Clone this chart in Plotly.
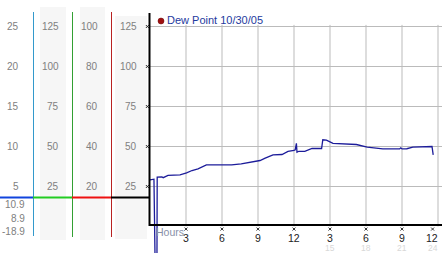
import plotly.graph_objects as go

# ---------------- data ----------------
hours = [0.0, 0.33, 0.42, 0.58, 0.6, 1.0, 1.1, 1.4, 1.5, 2.5, 3.05, 3.5, 4.0, 4.7,
         6.8, 7.6, 8.33, 9.17, 9.6, 10.25, 11.0, 11.5, 12.0, 12.1, 12.2, 12.25,
         12.4, 12.9, 13.5, 14.3, 14.4, 14.7, 15.25, 17.2, 18.1, 19.4, 20.8, 20.9,
         21.0, 21.4, 21.9, 23.5, 23.6]
dew_point = [29.2, 29.6, -20, -20, 30.8, 31.0, 30.5, 31.2, 31.9, 32.3, 33.5, 35, 36, 38.5,
             38.5, 39.2, 40.2, 41.25, 42.7, 44.8, 45, 46.9, 47.5, 47.9, 52, 46.4,
             47, 47, 48.75, 48.75, 54.2, 54, 52, 51.25, 49.6, 48.5, 48.5, 49.2,
             48.5, 48.6, 49.6, 50, 44.8]

grid_values = [25, 50, 75, 100, 125]
col1_labels = ["5", "10", "15", "20", "25"]
col2_labels = ["25", "50", "75", "100", "125"]
col3_labels = ["20", "40", "60", "80", "100"]
col4_labels = ["25", "50", "75", "100", "125"]
low_labels = ["10.9", "8.9", "-18.9"]
hour_ticks = [3, 6, 9, 12, 15, 18, 21, 24]
hour_labels = ["3", "6", "9", "12", "3", "6", "9", "12"]
hour_ticks2 = [15, 18, 21, 24]
hour_labels2 = ["15", "18", "21", "24"]
legend_text = "Dew Point 10/30/05"

W, H = 442, 253
X0PX, PXH = 150, 12.0        # hour 0 pixel, pixels per hour
Y0PX, PXV = 226.5, 1.6       # value 0 pixel, pixels per unit

def px(xp):
    return xp / W

def py(yp):
    return 1 - yp / H

FONT = "Liberation Sans, Arial, sans-serif"
fig = go.Figure()

fig.add_trace(go.Scatter(x=hours, y=dew_point, mode="lines",
                         line=dict(color="#1c1c9a", width=1.3), hoverinfo="skip"))

# tiny x tick markers
tick_x = [h if h < 24 else h - 0.45 for h in hour_ticks]
fig.add_trace(go.Scatter(x=[-0.22] * len(grid_values), y=grid_values, mode="markers",
                         marker=dict(symbol="x-thin", size=3, line=dict(width=1, color="#333")),
                         hoverinfo="skip"))
fig.add_trace(go.Scatter(x=tick_x, y=[-1.6] * len(hour_ticks), mode="markers",
                         marker=dict(symbol="x-thin", size=3, line=dict(width=1, color="#333")),
                         hoverinfo="skip"))

shapes = []
# gray columns
for x0, y0, x1, y1 in [(40, 7, 66, 240), (80, 7, 105, 240), (115, 16, 147, 239)]:
    shapes.append(dict(type="rect", xref="paper", yref="paper", x0=px(x0), x1=px(x1),
                       y0=py(y1), y1=py(y0), fillcolor="#f6f6f6", line=dict(width=0), layer="below"))
# vertical colored lines
for xv, c, yb in [(33.5, "#3399cc", 236), (72.5, "#33a033", 237), (111.5, "#b82222", 237)]:
    shapes.append(dict(type="line", xref="paper", yref="paper", x0=px(xv), x1=px(xv),
                       y0=py(yb), y1=py(12), line=dict(color=c, width=1)))
# horizontal colored baseline
for x0, x1, c in [(0, 33, "#1144dd"), (33, 72, "#22cc22"), (72, 111, "#ee1111"), (111, 150, "#000000")]:
    shapes.append(dict(type="line", xref="paper", yref="paper", x0=px(x0), x1=px(x1),
                       y0=py(197.5), y1=py(197.5), line=dict(color=c, width=2)))
# gridlines
for v in grid_values:
    shapes.append(dict(type="line", xref="x", yref="y", x0=0, x1=25, y0=v, y1=v,
                       line=dict(color="#bbbbbb", width=1), layer="below"))
for h in hour_ticks:
    shapes.append(dict(type="line", xref="x", yref="y", x0=h, x1=h, y0=0, y1=126,
                       line=dict(color="#bbbbbb", width=1), layer="below"))
# axis lines
shapes.append(dict(type="line", xref="paper", yref="paper", x0=px(149.5), x1=px(149.5),
                   y0=py(226), y1=py(13), line=dict(color="#000", width=2)))
shapes.append(dict(type="line", xref="paper", yref="paper", x0=px(149), x1=1,
                   y0=py(225), y1=py(225), line=dict(color="#000", width=2)))
# legend dot
shapes.append(dict(type="circle", xref="paper", yref="paper", x0=px(158), x1=px(164),
                   y0=py(24), y1=py(18), fillcolor="#a01010", line=dict(color="#600", width=0.5)))

ann = []
def label(x, y, text, anchor="right", color="#808080", size=10, xref="paper", yref="paper"):
    ann.append(dict(x=x, y=y, xref=xref, yref=yref, text=text, showarrow=False,
                    xanchor=anchor, yanchor="middle", font=dict(family=FONT, size=size, color=color)))

for v, a, b, c, d in zip(grid_values, col1_labels, col2_labels, col3_labels, col4_labels):
    yy = py(Y0PX - v * PXV)
    label(px(20.5), yy, a)
    label(px(61), yy, b)
    label(px(100), yy, c)
    label(px(139), yy, d)
for t, yp in zip(low_labels, [204, 218.5, 231.5]):
    label(px(26.5), py(yp), t)

for h, t in zip(hour_ticks, hour_labels):
    if h < 24:
        label(h, py(237.5), t, anchor="center", color="#222", size=10.5, xref="x")
    else:
        label(px(440), py(237.5), t, anchor="right", color="#222", size=10.5)
for h, t in zip(hour_ticks2, hour_labels2):
    if h < 24:
        label(h, py(248), t, anchor="center", color="#d8d8d8", size=8.5, xref="x")
    else:
        label(px(440), py(248), t, anchor="right", color="#d8d8d8", size=8.5)
label(px(154), py(232), "Hours", anchor="left", color="#8890a8", size=10.5)
label(px(165), py(20.5), legend_text, anchor="left", color="#1e3a9e", size=11)

fig.update_layout(
    width=W, height=H, margin=dict(l=0, r=0, t=0, b=0),
    paper_bgcolor="white", plot_bgcolor="white", showlegend=False,
    xaxis=dict(range=[-X0PX / PXH, (W - X0PX) / PXH], visible=False, fixedrange=True),
    yaxis=dict(range=[-(H - Y0PX) / PXV, Y0PX / PXV], visible=False, fixedrange=True),
    shapes=shapes, annotations=ann,
)
fig.write_html("out.html", config={"displayModeBar": False})
